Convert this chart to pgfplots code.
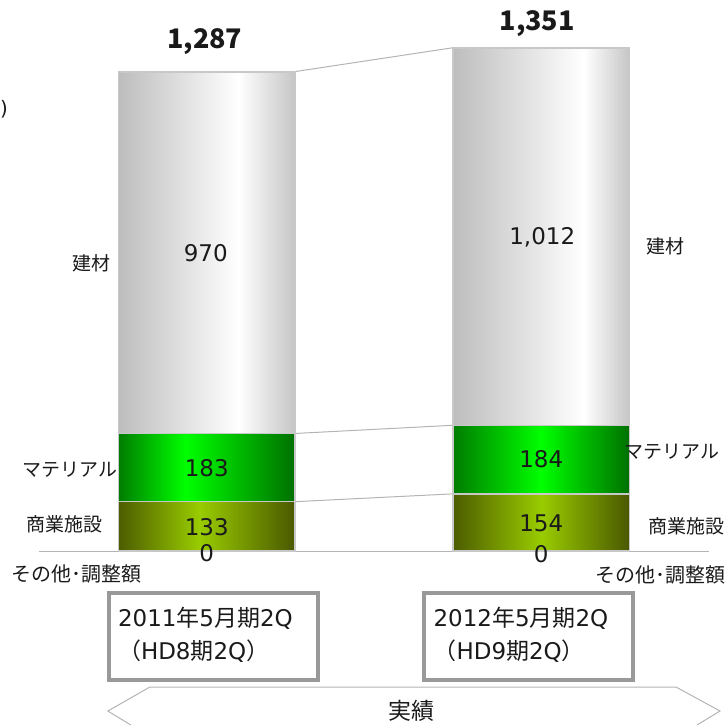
\documentclass[border=0pt]{standalone}
\usepackage{pgfplots}
\pgfplotsset{compat=1.18}
\usepackage{fontspec}
\setmainfont{Noto Sans CJK JP}
\newfontfamily\lat{DejaVu Sans}
\newcommand\fs[1]{\fontsize{#1pt}{#1pt}\selectfont}
\definecolor{gA}{HTML}{BDBDBD}
\definecolor{gB}{HTML}{C6C6C6}
\definecolor{grA}{HTML}{007C00}
\definecolor{grM}{HTML}{00FF00}
\definecolor{grB}{HTML}{007000}
\definecolor{olA}{HTML}{4C5C00}
\definecolor{olM}{HTML}{99CC00}
\definecolor{olB}{HTML}{4A5800}
\definecolor{edge}{HTML}{C8C8C8}
\definecolor{conn}{HTML}{B4B4B4}
\definecolor{boxg}{HTML}{999999}
\definecolor{txt}{HTML}{1A1A1A}
\pgfdeclarehorizontalshading{grayL}{100bp}{color(0bp)=(gA); color(25bp)=(gA); color(59bp)=(white); color(75bp)=(gB); color(100bp)=(gB)}
\pgfdeclarehorizontalshading{grayR}{100bp}{color(0bp)=(gA); color(25bp)=(gA); color(62bp)=(white); color(75bp)=(gB); color(100bp)=(gB)}
\pgfdeclarehorizontalshading{greenL}{100bp}{color(0bp)=(grA); color(25bp)=(grA); color(44bp)=(grM); color(75bp)=(grB); color(100bp)=(grB)}
\pgfdeclarehorizontalshading{greenR}{100bp}{color(0bp)=(grA); color(25bp)=(grA); color(50bp)=(grM); color(75bp)=(grB); color(100bp)=(grB)}
\pgfdeclarehorizontalshading{oliveL}{100bp}{color(0bp)=(olA); color(25bp)=(olA); color(48bp)=(olM); color(75bp)=(olB); color(100bp)=(olB)}
\pgfdeclarehorizontalshading{oliveR}{100bp}{color(0bp)=(olA); color(25bp)=(olA); color(50bp)=(olM); color(75bp)=(olB); color(100bp)=(olB)}
\pgfplotsset{base/.style={scale only axis, width=724pt, height=726pt,
  xmin=-0.6090, xmax=1.5522, ymin=-466.2, ymax=1479.1, hide axis, clip=false},
  bars/.style={base, ybar stacked, bar width=0.528},
  seg/.style={draw=edge, line width=1.5pt, shading=#1}}
\begin{document}
\begin{tikzpicture}
% connector lines and baseline
\begin{axis}[base]
\path (rel axis cs:0,0) rectangle (rel axis cs:1,1);
\coordinate (O) at (rel axis cs:0,1);
\addplot[conn, line width=1.2pt] coordinates {(-0.501,0) (1.501,0)};
\addplot[conn, line width=1pt] coordinates {(0.264,1287) (0.736,1351)};
\addplot[conn, line width=1pt] coordinates {(0.264,316) (0.736,338)};
\addplot[conn, line width=1pt] coordinates {(0.264,133) (0.736,154)};
\end{axis}
% left stacked bar: 2011年5月期2Q
\begin{axis}[bars]
\addplot[seg=oliveL] coordinates {(0,133)};
\addplot[seg=greenL] coordinates {(0,183)};
\addplot[seg=grayL] coordinates {(0,970)};
\end{axis}
% right stacked bar: 2012年5月期2Q
\begin{axis}[bars]
\addplot[seg=oliveR] coordinates {(1,154)};
\addplot[seg=greenR] coordinates {(1,184)};
\addplot[seg=grayR] coordinates {(1,1012)};
\end{axis}
\begin{scope}[shift={(O)}, x=1pt, y=-1pt, every node/.style={text=txt, inner sep=0pt}]
\node[anchor=east, font=\fs{20}\lat] at (5,109) {)};
\node[font=\fs{27}\bfseries] at (202,42) {1,287};
\node[font=\fs{27}\bfseries] at (535,24) {1,351};
\node[font=\fs{23}\lat] at (203,253) {970};
\node[font=\fs{23}\lat] at (540,238) {1,012};
\node[font=\fs{23}\lat] at (204,469) {183};
\node[font=\fs{23}\lat] at (539,460) {184};
\node[font=\fs{23}\lat] at (204,528) {133};
\node[font=\fs{23}\lat] at (539,524) {154};
\node[font=\fs{23}\lat] at (204,554) {0};
\node[font=\fs{23}\lat] at (539,555) {0};
\node[font=\fs{19}] at (89,264) {建材};
\node[font=\fs{19}] at (67,470) {マテリアル};
\node[font=\fs{19}] at (62,525) {商業施設};
\node[font=\fs{20}] at (74,575) {その他･調整額};
\node[font=\fs{19}] at (663,247) {建材};
\node[font=\fs{19}] at (670,452) {マテリアル};
\node[font=\fs{19}] at (684,527) {商業施設};
\node[font=\fs{20}] at (658,576) {その他･調整額};
\draw[boxg, line width=4pt, fill=white] (106,594) rectangle (315,681);
\draw[boxg, line width=4pt, fill=white] (422,594) rectangle (631,681);
\node[anchor=west, font=\fs{23}] at (115,619) {{\lat 2011}年{\lat 5}月期{\lat 2Q}};
\node[anchor=west, font=\fs{23}] at (115,652) {（{\lat HD8}期{\lat 2Q}）};
\node[anchor=west, font=\fs{23}] at (431,619) {{\lat 2012}年{\lat 5}月期{\lat 2Q}};
\node[anchor=west, font=\fs{23}] at (431,652) {（{\lat HD9}期{\lat 2Q}）};
\draw[conn, line width=1pt] (128,726) -- (105,712) -- (147,688) -- (674,688) -- (718,712) -- (695,726);
\node[font=\fs{23}] at (409,712) {実績};
\end{scope}
\end{tikzpicture}
\end{document}
